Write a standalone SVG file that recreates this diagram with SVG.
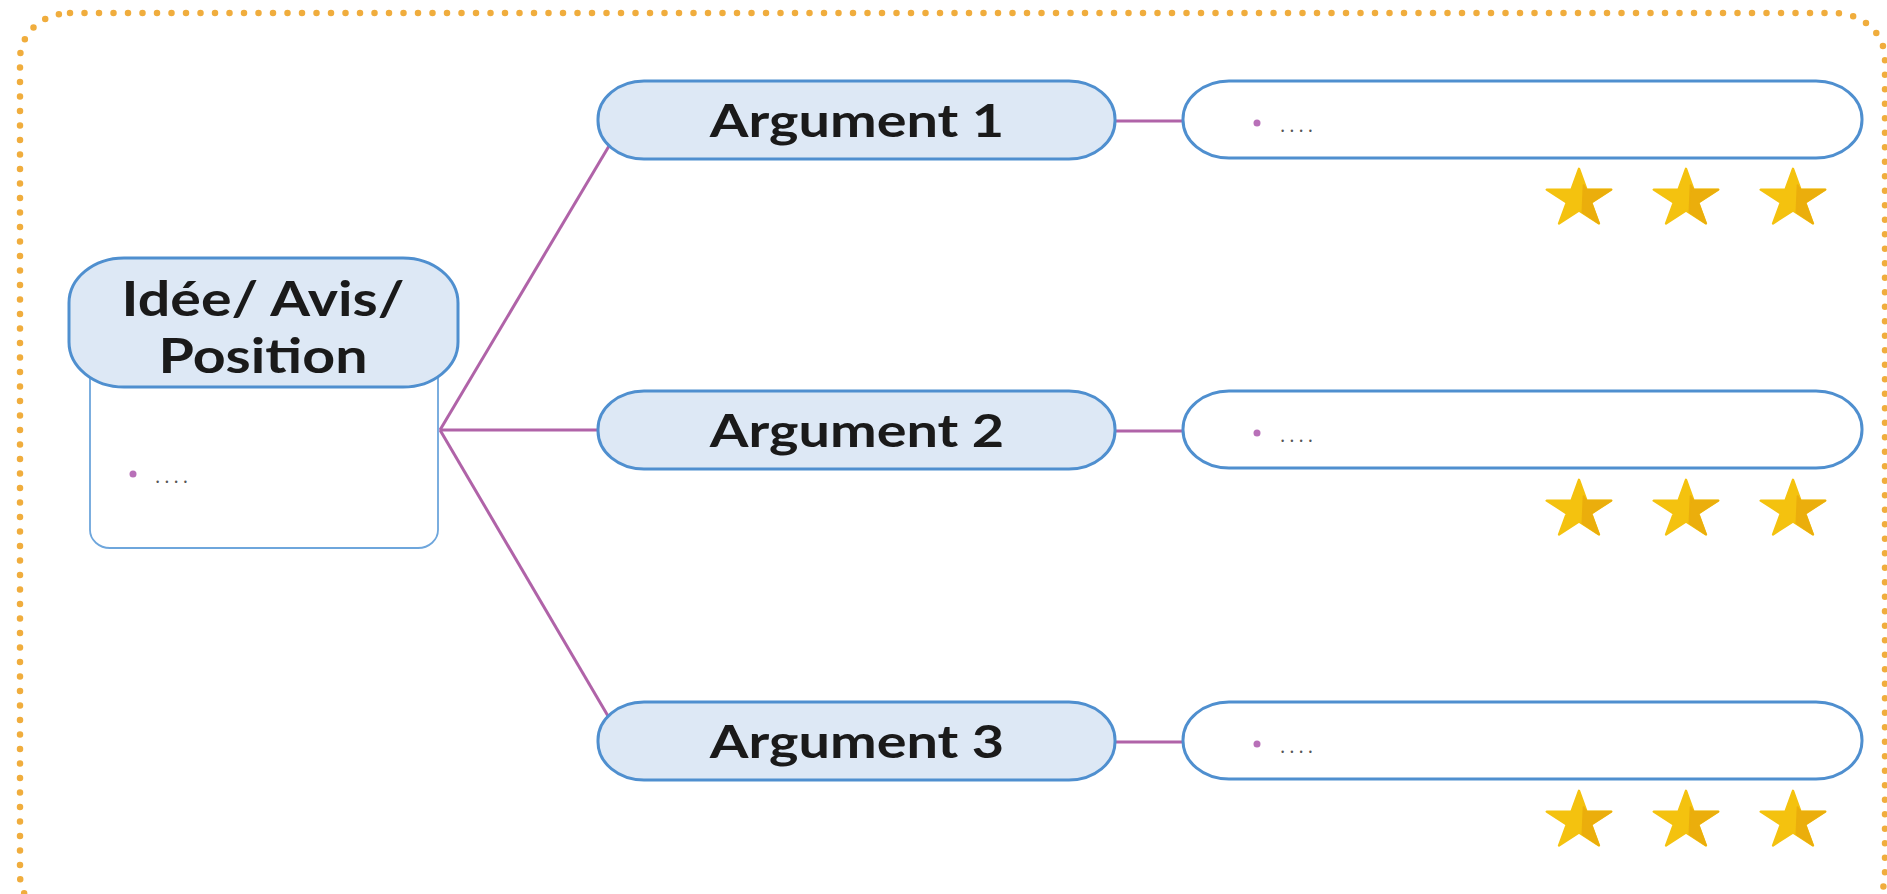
<svg xmlns="http://www.w3.org/2000/svg" width="1887" height="894" viewBox="0 0 1887 894">
<style>
.head{fill:#dde8f5;stroke:#4f8fcf;stroke-width:3}
.box{fill:#fff;stroke:#6ea6dc;stroke-width:1.8}
.pill{fill:#fff;stroke:#4f8fcf;stroke-width:3}
.lbl{font-family:Lato,"Open Sans","Liberation Sans",sans-serif;font-weight:700;fill:#1a1a1a;text-anchor:middle}
.dots{font-family:"Open Sans","Liberation Sans",sans-serif;font-size:20px;fill:#555;letter-spacing:4px}
.bul{fill:#b870b8}
.con{stroke:#b063a8;stroke-width:3;fill:none}
</style>
<defs>
<g id="star">
<polygon points="0,-30.4 6.8,-9.4 28.9,-9.4 11,3.6 17.9,24.6 0,11.6 -17.9,24.6 -11,3.6 -28.9,-9.4 -6.8,-9.4" fill="#f4c20f" stroke="#f4c20f" stroke-width="2" stroke-linejoin="round"/>
<polygon points="4,-14 6.8,-9.4 28.9,-9.4 11,3.6 17.9,24.6 3,13.5" fill="#ebae0c" stroke="#ebae0c" stroke-width="1.5" stroke-linejoin="round"/>
</g>
<g id="stars">
<use href="#star" transform="translate(1579,0) scale(1.12,1)"/>
<use href="#star" transform="translate(1686,0) scale(1.12,1)"/>
<use href="#star" transform="translate(1793,0) scale(1.12,1)"/>
</g>
</defs>
<rect x="0" y="0" width="1887" height="894" fill="#fff"/>
<rect x="20" y="13" width="1865" height="908" rx="50" ry="46" fill="none" stroke="#f0ad3d" stroke-width="6.5" stroke-linecap="round" stroke-dasharray="0 14.5"/>
<g id="connectors">
<line class="con" x1="440" y1="430" x2="609" y2="146"/>
<line class="con" x1="440" y1="430" x2="598" y2="430"/>
<line class="con" x1="440" y1="430" x2="608" y2="716"/>
<line class="con" x1="1115" y1="121" x2="1183" y2="121"/>
<line class="con" x1="1115" y1="431" x2="1183" y2="431"/>
<line class="con" x1="1115" y1="742" x2="1183" y2="742"/>
</g>
<g id="idee">
<rect class="box" x="90" y="350" width="348" height="198" rx="20" ry="18"/>
<rect class="head" x="69" y="258" width="389" height="129" rx="55" ry="45"/>
<text class="lbl" transform="translate(263,316) scale(1.22,1)" font-size="47">Idée/ Avis/</text>
<text class="lbl" transform="translate(263,373) scale(1.22,1)" font-size="47">Position</text>
<circle class="bul" cx="133" cy="474" r="3.5"/>
<text class="dots" x="155" y="483">....</text>
</g>
<g id="arg1">
<rect class="head" x="598" y="81" width="517" height="78" rx="46" ry="38"/>
<text class="lbl" transform="translate(857,137) scale(1.24,1)" font-size="45">Argument 1</text>
</g>
<g id="arg2">
<rect class="head" x="598" y="391" width="517" height="78" rx="46" ry="38"/>
<text class="lbl" transform="translate(857,447) scale(1.24,1)" font-size="45">Argument 2</text>
</g>
<g id="arg3">
<rect class="head" x="598" y="702" width="517" height="78" rx="46" ry="38"/>
<text class="lbl" transform="translate(857,758) scale(1.24,1)" font-size="45">Argument 3</text>
</g>
<g id="detail1">
<rect class="pill" x="1183" y="81" width="679" height="77" rx="46" ry="38"/>
<circle class="bul" cx="1257" cy="123" r="3.5"/>
<text class="dots" x="1280" y="132">....</text>
<use href="#stars" y="199"/>
</g>
<g id="detail2">
<rect class="pill" x="1183" y="391" width="679" height="77" rx="46" ry="38"/>
<circle class="bul" cx="1257" cy="433" r="3.5"/>
<text class="dots" x="1280" y="442">....</text>
<use href="#stars" y="510"/>
</g>
<g id="detail3">
<rect class="pill" x="1183" y="702" width="679" height="77" rx="46" ry="38"/>
<circle class="bul" cx="1257" cy="744" r="3.5"/>
<text class="dots" x="1280" y="753">....</text>
<use href="#stars" y="821"/>
</g>
</svg>
